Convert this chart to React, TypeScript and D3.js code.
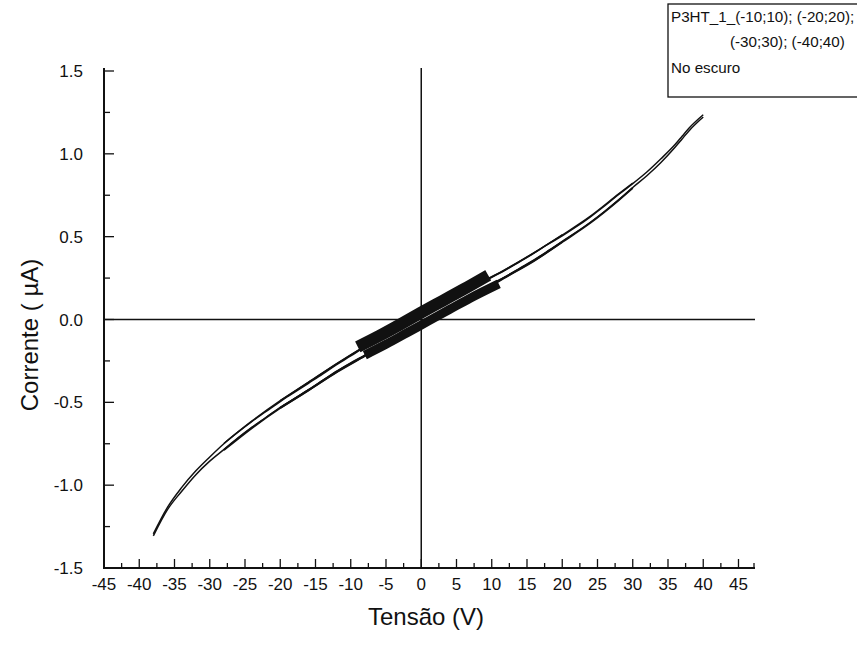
import * as d3 from "d3";
import React from "react";

// tick labels
const xTicks = [-45, -40, -35, -30, -25, -20, -15, -10, -5, 0, 5, 10, 15, 20, 25, 30, 35, 40, 45];
const yTicks = [-1.5, -1.0, -0.5, 0.0, 0.5, 1.0, 1.5];

// sweep (-40;40)
const v40 = [-38, -36, -34, -32, -30, -28, -26, -24, -22, -20, -18, -16, -14, -12, -10, -8, -6, -4, -2, 0, 2, 4, 6, 8, 10, 12, 14, 16, 18, 20, 22, 24, 26, 28, 30, 32, 34, 36, 37, 38, 40];
const up40 = [-1.294, -1.134, -1.015, -0.915, -0.83, -0.75, -0.68, -0.615, -0.555, -0.495, -0.44, -0.385, -0.33, -0.272, -0.22, -0.165, -0.115, -0.065, -0.02, 0.025, 0.07, 0.115, 0.165, 0.21, 0.255, 0.3, 0.35, 0.4, 0.455, 0.505, 0.56, 0.62, 0.685, 0.755, 0.82, 0.89, 0.97, 1.056, 1.106, 1.156, 1.236];
const lo40 = [-1.306, -1.148, -1.038, -0.938, -0.855, -0.785, -0.715, -0.65, -0.59, -0.53, -0.478, -0.424, -0.368, -0.312, -0.262, -0.215, -0.165, -0.115, -0.07, -0.025, 0.02, 0.065, 0.115, 0.16, 0.215, 0.26, 0.31, 0.36, 0.415, 0.472, 0.527, 0.587, 0.652, 0.722, 0.797, 0.868, 0.948, 1.04, 1.09, 1.14, 1.222];

// sweep (-30;30)
const v30 = [-28, -24, -20, -16, -12, -8, -4, 0, 4, 8, 12, 16, 20, 24, 28, 30];
const up30 = [-0.748, -0.612, -0.49, -0.38, -0.268, -0.162, -0.062, 0.028, 0.118, 0.212, 0.302, 0.402, 0.51, 0.624, 0.758, 0.824];
const lo30 = [-0.788, -0.654, -0.534, -0.426, -0.316, -0.218, -0.118, -0.028, 0.062, 0.158, 0.258, 0.356, 0.468, 0.584, 0.72, 0.794];

// sweep (-20;20)
const v20 = [-20, -16, -12, -8, -4, 0, 4, 8, 12, 16, 20];
const up20 = [-0.49, -0.378, -0.266, -0.16, -0.06, 0.03, 0.12, 0.214, 0.304, 0.404, 0.512];
const lo20 = [-0.534, -0.428, -0.318, -0.22, -0.12, -0.03, 0.06, 0.156, 0.256, 0.354, 0.468];

// sweep (-10;10), dense points -> thick band
const v10u = [-9, -6, -3, 0, 3, 6, 9.5];
const up10 = [-0.165, -0.1, -0.03, 0.042, 0.112, 0.182, 0.267];
const v10l = [-8, -5, -2, 1, 4, 7, 11];
const lo10 = [-0.215, -0.15, -0.08, -0.01, 0.06, 0.13, 0.215];

const legendLines = ["P3HT_1_(-10;10); (-20;20);", "(-30;30); (-40;40)", "No escuro"];

const font = "'Liberation Sans', Arial, Helvetica, sans-serif";

export default function App() {
  const width = 857;
  const height = 653;
  const x = d3.scaleLinear().domain([-45, 47.2]).range([104, 754]);
  const y = d3.scaleLinear().domain([-1.5, 1.5]).range([568, 71]);

  const line = d3
    .line<[number, number]>()
    .x((d) => x(d[0]))
    .y((d) => y(d[1]))
    .curve(d3.curveMonotoneX);

  const path = (vs: number[], is: number[]) => line(vs.map((v, i) => [v, is[i]]) as [number, number][]) || "";

  const xMinor = d3.range(-45, 47.3, 2.5);
  const yMinor = d3.range(-1.5, 1.51, 0.25);

  return (
    <svg width={width} height={height} style={{ position: "absolute", left: 0, top: 0, background: "white" }}>
      <rect width={width} height={height} fill="white" />

      {/* zero cross lines */}
      <line x1={x(0)} x2={x(0)} y1={68} y2={568} stroke="#111" strokeWidth={1.5} />
      <line x1={104} x2={755} y1={y(0)} y2={y(0)} stroke="#111" strokeWidth={1.5} />

      {/* sweeps */}
      <g fill="none" stroke="#111" strokeLinecap="butt">
        <path d={path(v40, up40)} strokeWidth={1.5} />
        <path d={path(v40, lo40)} strokeWidth={1.5} />
        <path d={path(v30, up30)} strokeWidth={1.4} />
        <path d={path(v30, lo30)} strokeWidth={2} />
        <path d={path(v20, up20)} strokeWidth={1.4} />
        <path d={path(v20, lo20)} strokeWidth={2} />
        <path d={path(v10u, up10)} strokeWidth={12} />
        <path d={path(v10l, lo10)} strokeWidth={9} />
      </g>

      {/* axes */}
      <line x1={104} x2={104} y1={68} y2={569} stroke="#111" strokeWidth={2} />
      <line x1={103} x2={755} y1={568} y2={568} stroke="#111" strokeWidth={2} />
      {xMinor.map((t, i) => (
        <line key={"xt" + i} x1={x(t)} x2={x(t)} y1={568} y2={568 - (i % 2 === 0 ? 9 : 5)} stroke="#111" strokeWidth={1.3} />
      ))}
      <line x1={754} x2={754} y1={568} y2={563} stroke="#111" strokeWidth={1.3} />
      {yMinor.map((t, i) => (
        <line key={"yt" + i} x1={104} x2={104 + (i % 2 === 0 ? 10 : 6)} y1={y(t)} y2={y(t)} stroke="#111" strokeWidth={1.3} />
      ))}

      <g fontFamily={font} fontSize={17} fill="#111">
        {xTicks.map((t) => (
          <text key={"xl" + t} x={x(t)} y={590} textAnchor="middle">
            {t}
          </text>
        ))}
        {yTicks.map((t) => (
          <text key={"yl" + t} x={83} y={y(t) + 6} textAnchor="end">
            {t.toFixed(1)}
          </text>
        ))}
      </g>

      {/* axis titles */}
      <text x={426} y={625} textAnchor="middle" fontFamily={font} fontSize={24} fill="#111">
        Tensão (V)
      </text>
      <text
        transform={`translate(38, ${335}) rotate(-90)`}
        textAnchor="middle"
        fontFamily={font}
        fontSize={24}
        fill="#111"
      >
        Corrente ( µA)
      </text>

      {/* legend */}
      <rect x={668} y={4} width={200} height={93} fill="white" stroke="#111" strokeWidth={1.3} />
      <g fontFamily={font} fontSize={15.2} fill="#111">
        <text x={671} y={22}>{legendLines[0]}</text>
        <text x={730} y={47}>{legendLines[1]}</text>
        <text x={671} y={73}>{legendLines[2]}</text>
      </g>
    </svg>
  );
}
